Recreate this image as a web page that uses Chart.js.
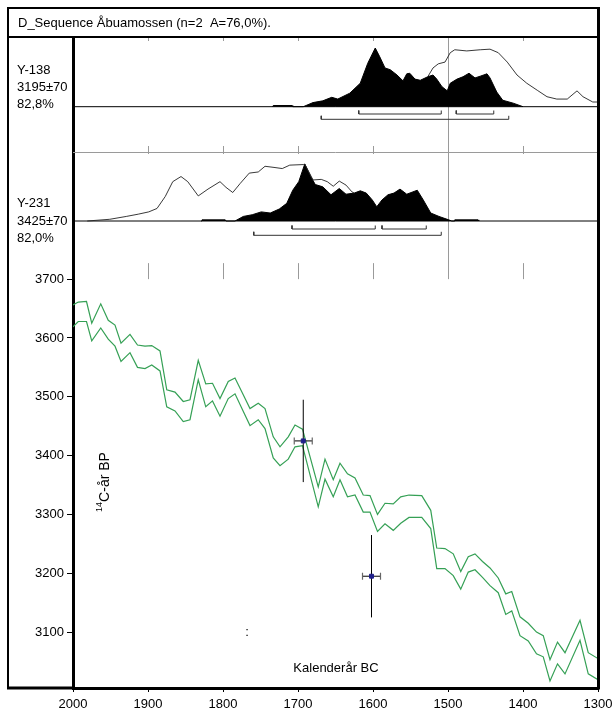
<!DOCTYPE html>
<html><head><meta charset="utf-8">
<script src="https://cdn.jsdelivr.net/npm/chart.js@4.4.1/dist/chart.umd.min.js"></script>
<style>html,body{margin:0;padding:0;background:#fff;}canvas{display:block;}</style>
</head><body>
<canvas id="c" width="613" height="713"></canvas>
<script>
// ---------------- data ----------------
const titleText = 'D_Sequence Åbuamossen (n=2  A=76,0%).';
const xTicks = [2000,1900,1800,1700,1600,1500,1400,1300];
const yTicks = [3100,3200,3300,3400,3500,3600,3700];
const xTitle = 'Kalenderår BC';
const yTitleSup = '14';
const yTitleRest = 'C-år BP';

// calibration curve (1 sigma envelope), BC years vs 14C BP
const calYears = [2000,1993,1982,1975,1963,1953,1944,1936,1924,1914,1904,1895,1884,1875,1864,1853,1844,1833,1823,1814,1804,1793,1784,1774,1764,1753,1744,1733,1724,1713,1704,1694,1673,1664,1653,1644,1634,1624,1613,1604,1594,1584,1573,1563,1552,1535,1523,1515,1504,1493,1483,1473,1464,1454,1444,1433,1423,1415,1404,1393,1382,1373,1364,1354,1344,1324,1313,1300];
const calUpper = [3656,3661,3662,3625,3658,3630,3622,3591,3606,3588,3586,3587,3578,3512,3508,3492,3495,3562,3522,3523,3497,3526,3532,3506,3480,3489,3480,3432,3415,3432,3452,3445,3347,3394,3359,3387,3369,3362,3333,3332,3300,3319,3318,3330,3333,3332,3307,3243,3242,3233,3203,3228,3233,3220,3209,3192,3165,3169,3126,3115,3100,3094,3053,3083,3065,3120,3065,3055];
const calLower = [3619,3628,3628,3595,3617,3598,3586,3560,3575,3550,3548,3554,3544,3483,3476,3458,3461,3529,3483,3493,3467,3497,3505,3478,3451,3461,3446,3396,3383,3394,3415,3417,3313,3360,3330,3359,3330,3333,3304,3304,3271,3284,3273,3285,3295,3295,3276,3208,3208,3196,3173,3202,3206,3193,3179,3167,3130,3136,3094,3085,3063,3058,3017,3046,3029,3086,3029,3019];

// samples
const sampleNames = ['Y-138','Y-231'];
const sampleBP = [3195, 3425];
const sampleErr = [70, 70];
const sampleAgree = ['82,8%','82,0%'];
const sampleCalYear = [1602, 1693];
const sampleCalErr = [12, 12];

// Y-138 : posterior (filled) and unmodelled likelihood (outline), relative prob.
const p1Years = [1734,1733,1708,1707,1693,1680,1667,1655,1647,1631,1617,1607,1597,1591,1584,1577,1568,1560,1555,1551,1544,1537,1527,1520,1515,1508,1501,1497,1488,1480,1472,1464,1457,1448,1444,1435,1427,1413,1400];
const p1Post  = [0,2,2,0,0,7,10,16,13,23,40,74,100,85,66,63,54,44,56,57,47,45,51,54,47,34,27,40,47,51,57,49,52,56,49,25,11,6,0];
const p1PriorYears = [1527,1520,1513,1504,1497,1491,1475,1457,1444,1433,1421,1408,1395,1381,1368,1355,1341,1328,1320,1307,1300];
const p1Prior = [51,66,73,76,92,97,95,97,98,92,76,54,40,28,17,13,13,27,17,8,8];
const p1Range68 = [[1619,1509],[1489,1439]];
const p1Range95 = [[1669,1419]];

// Y-231
const p2Years = [1829,1828,1797,1796,1784,1773,1761,1749,1737,1725,1715,1707,1699,1691,1683,1677,1667,1656,1645,1636,1625,1617,1609,1601,1595,1588,1580,1572,1564,1555,1541,1533,1523,1512,1499,1495,1492,1491,1460,1459];
const p2Post  = [0,2,2,0,0,8,11,16,14,21,31,54,69,100,78,64,60,46,57,47,49,53,49,37,25,37,46,49,56,47,54,37,14,8,2,0,0,2,2,0];
const p2PriorYears = [1981,1951,1929,1913,1899,1888,1877,1867,1856,1847,1833,1820,1804,1796,1787,1777,1765,1753,1744,1732,1721,1711,1693,1691,1680,1669,1661,1653,1645,1636,1628,1625];
const p2Prior = [0,3,8,12,16,22,43,69,78,69,44,56,69,59,50,66,84,86,96,94,92,98,99,100,72,73,69,61,70,63,51,49];
const p2Range68 = [[1708,1597],[1588,1529]];
const p2Range95 = [[1759,1509]];

// ---------------- layout (pixels) ----------------
const AREA_TOP = 37, AREA_BOTTOM = 688, AREA_H = AREA_BOTTOM - AREA_TOP;
const MAIN_PX_PER_BP = 0.5883, MAIN_MIN = 3005;
const P1_BASE = 106.7, P1_PX = 0.587;
const P2_BASE = 221, P2_PX = 0.57;
const SEP_Y = 152;
const FONT = '"Liberation Sans", Arial, sans-serif';
const FS = 13;

function pts(xs, ys){ return xs.map((x,i)=>({x, y: ys[i]})); }
function bracketSets(ranges, rowPx, tickPx, pxPer, axis){
  return ranges.map(r => ({
    type:'line', yAxisID: axis, order: 2,
    data: [{x:r[0], y:-(rowPx-tickPx)/pxPer},{x:r[0], y:-rowPx/pxPer},{x:r[1], y:-rowPx/pxPer},{x:r[1], y:-(rowPx-tickPx)/pxPer}],
    borderColor:'#333', borderWidth:1, pointRadius:0, fill:false, tension:0
  }));
}
function baseline(axis){
  return {type:'line', yAxisID: axis, order: 3, data:[{x:2000,y:0},{x:1300,y:0}], borderColor:'#000', borderWidth:1, pointRadius:0, fill:false};
}

const datasets = [];
datasets.push({type:'line', yAxisID:'y', order:4, data: pts(calYears, calUpper), borderColor:'#35a055', borderWidth:1.2, pointRadius:0, tension:0, fill:false});
datasets.push({type:'line', yAxisID:'y', order:4, data: pts(calYears, calLower), borderColor:'#35a055', borderWidth:1.2, pointRadius:0, tension:0, fill:false});
sampleBP.forEach((bp, i) => {
  const cy = sampleCalYear[i];
  datasets.push({type:'line', yAxisID:'y', order:1, data:[{x:cy, y:bp-sampleErr[i]},{x:cy, y:bp+sampleErr[i]}], borderColor:'#000', borderWidth:1, pointRadius:0, fill:false});
  datasets.push({type:'line', yAxisID:'y', order:1, data:[{x:cy+sampleCalErr[i], y:bp},{x:cy-sampleCalErr[i], y:bp}], borderColor:'#000', borderWidth:1,
    pointStyle:'line', rotation:90, pointRadius:3.5, pointBorderColor:'#666', pointBorderWidth:1.2, fill:false});
  datasets.push({type:'line', yAxisID:'y', order:0, data:[{x:cy, y:bp}], pointStyle:'rect', pointRadius:2.8, pointBackgroundColor:'#20208c', pointBorderColor:'#20208c', showLine:false});
});
datasets.push({type:'line', yAxisID:'p1', order:6, data: pts(p1Years, p1Post), borderColor:'#000', borderWidth:1, backgroundColor:'#000', fill:'origin', pointRadius:0, tension:0});
datasets.push({type:'line', yAxisID:'p1', order:1, data: pts(p1PriorYears, p1Prior), borderColor:'#222', borderWidth:0.9, fill:false, pointRadius:0, tension:0});
datasets.push(baseline('p1'));
bracketSets(p1Range68, 7.3, 3.5, P1_PX, 'p1').forEach(d=>datasets.push(d));
bracketSets(p1Range95, 12.6, 3.5, P1_PX, 'p1').forEach(d=>datasets.push(d));
datasets.push({type:'line', yAxisID:'p2', order:6, data: pts(p2Years, p2Post), borderColor:'#000', borderWidth:1, backgroundColor:'#000', fill:'origin', pointRadius:0, tension:0});
datasets.push({type:'line', yAxisID:'p2', order:1, data: pts(p2PriorYears, p2Prior), borderColor:'#222', borderWidth:0.9, fill:false, pointRadius:0, tension:0});
datasets.push(baseline('p2'));
bracketSets(p2Range68, 8, 3.5, P2_PX, 'p2').forEach(d=>datasets.push(d));
bracketSets(p2Range95, 14.3, 3.5, P2_PX, 'p2').forEach(d=>datasets.push(d));

function line(c, x1, y1, x2, y2){ c.beginPath(); c.moveTo(x1,y1); c.lineTo(x2,y2); c.stroke(); }

const framePlugin = {
  id:'frame',
  beforeDraw(chart){ const c=chart.ctx; c.save(); c.fillStyle='#fff'; c.fillRect(0,0,chart.width,chart.height); c.restore(); },
  beforeDatasetsDraw(chart){
    const c = chart.ctx, xs = chart.scales.x, a = chart.chartArea;
    const mainTop = chart.scales.y.getPixelForValue(yTicks[yTicks.length-1]);
    c.save();
    c.strokeStyle = '#9a9a9a'; c.lineWidth = 1;
    line(c, a.left, SEP_Y+0.5, a.right, SEP_Y+0.5);
    const xMid = Math.round(xs.getPixelForValue(1500)) + 0.5;
    line(c, xMid, a.top, xMid, mainTop);
    xTicks.forEach(v => {
      if (v === 2000 || v === 1300 || v === 1500) return;
      const px = Math.round(xs.getPixelForValue(v)) + 0.5;
      line(c, px, a.top, px, a.top + 4);
      line(c, px, SEP_Y - 6, px, SEP_Y + 2);
      line(c, px, mainTop - 16, px, mainTop);
    });
    c.restore();
  },
  afterDraw(chart){
    const c = chart.ctx, a = chart.chartArea;
    c.save();
    c.strokeStyle = '#000';
    c.lineWidth = 2;
    line(c, 8, 8, 599, 8);
    line(c, 8, 7, 8, AREA_BOTTOM + 1);
    line(c, 8, AREA_TOP, 598, AREA_TOP);
    c.lineWidth = 3;
    line(c, 598.5, 7, 598.5, AREA_BOTTOM + 1.5);
    line(c, 7, AREA_BOTTOM, a.left, AREA_BOTTOM);
    c.fillStyle = '#000';
    c.font = FS + 'px ' + FONT;
    c.textBaseline = 'middle'; c.textAlign = 'left';
    c.fillText(titleText, 18, 23);
    const rows = [[70.7, 87.3, 104],[203.3, 221, 238.3]];
    sampleNames.forEach((n, i) => {
      const r = rows[i];
      c.fillText(n, 17, r[0]);
      c.fillText(sampleBP[i] + '±' + sampleErr[i], 17, r[1]);
      c.fillText(sampleAgree[i], 17, r[2]);
    });
    c.textAlign = 'center';
    c.fillText(xTitle, 336, 668);
    c.fillText(':', 247, 632);
    c.translate(105, 482);
    c.rotate(-Math.PI/2);
    c.font = '14px ' + FONT;
    const wRest = c.measureText(yTitleRest).width;
    c.font = '9px ' + FONT;
    const wSup = c.measureText(yTitleSup).width;
    const total = wRest + wSup;
    c.textAlign = 'left';
    c.fillText(yTitleSup, -total/2, -5);
    c.font = '14px ' + FONT;
    c.fillText(yTitleRest, -total/2 + wSup, 0);
    c.restore();
  }
};

const p1Max = (P1_BASE - AREA_TOP) / P1_PX;
const p2Max = (P2_BASE - AREA_TOP) / P2_PX;

new Chart(document.getElementById('c'), {
  type:'line',
  data:{ datasets },
  options:{
    responsive:false, animation:false, events:[],
    layout:{ padding:{ top: AREA_TOP, right: 15, bottom: 0, left: 0 } },
    plugins:{ legend:{display:false}, tooltip:{enabled:false} },
    scales:{
      x:{ type:'linear', reverse:true, min:1300, max:2000, position:'bottom',
        afterBuildTicks: s => { s.ticks = xTicks.map(v=>({value:v})); },
        afterFit: s => { s.height = 713 - AREA_BOTTOM; s.paddingLeft = 0; s.paddingRight = 0; },
        grid:{ drawOnChartArea:false, tickLength:4, color:'#000', tickWidth:1 },
        border:{ display:true, width:3, color:'#000' },
        ticks:{ color:'#000', font:{family:FONT, size:FS}, padding:5, maxRotation:0, autoSkip:false, callback: v => String(v) }
      },
      y:{ type:'linear', position:'left', min: MAIN_MIN, max: MAIN_MIN + AREA_H / MAIN_PX_PER_BP,
        afterBuildTicks: s => { s.ticks = yTicks.map(v=>({value:v})); },
        afterFit: s => { s.width = 73; s.paddingTop = 0; s.paddingBottom = 0; },
        grid:{ drawOnChartArea:false, tickLength:6, color:'#000', tickWidth:1 },
        border:{ display:true, width:3, color:'#000' },
        ticks:{ color:'#000', font:{family:FONT, size:FS}, padding:3, autoSkip:false, callback: v => String(v) }
      },
      p1:{ type:'linear', display:false, min: p1Max - AREA_H / P1_PX, max: p1Max },
      p2:{ type:'linear', display:false, min: p2Max - AREA_H / P2_PX, max: p2Max }
    }
  },
  plugins:[framePlugin]
});
</script>
</body></html>
